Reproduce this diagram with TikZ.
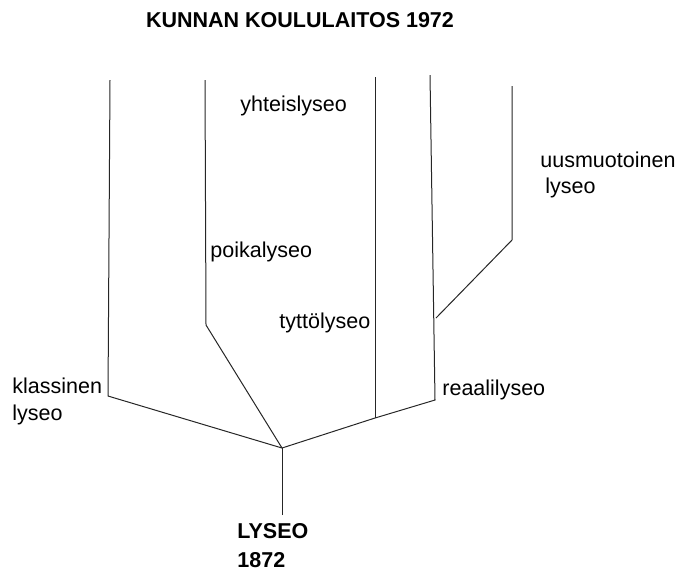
\documentclass[tikz,border=0pt]{standalone}
\usepackage{fontspec}
\setmainfont{Liberation Sans}
\begin{document}
\begin{tikzpicture}[x=0.5pt,y=-0.5pt,
  branch/.style={draw=black!85, line width=0.5pt},
  lbl/.style={anchor=base west, inner sep=0pt, font=\fontsize{10.75}{13.5}\selectfont},
  heading/.style={anchor=base, inner sep=0pt, font=\fontsize{10.75}{13.5}\selectfont\bfseries}]
\useasboundingbox (0,0) rectangle (678,570);

% branching points of the family tree
\coordinate (root) at (282,448);
\coordinate (stem) at (282,515);
\coordinate (klA) at (108,396);
\coordinate (klB) at (110,80);
\coordinate (poA) at (206,325);
\coordinate (poB) at (205,80);
\coordinate (ty) at (375,418);
\coordinate (tyB) at (375,77);
\coordinate (reA) at (435,400);
\coordinate (reB) at (430,75);
\coordinate (reJ) at (436,318);
\coordinate (uuA) at (512,240);
\coordinate (uuB) at (512,86);

% branches
\draw[branch] (stem) -- (root);
\draw[branch] (root) -- (klA) -- (klB);
\draw[branch] (root) -- (poA) -- (poB);
\draw[branch] (root) -- (ty) -- (reA) -- (reB);
\draw[branch] (ty) -- (tyB);
\draw[branch] (reJ) -- (uuA) -- (uuB);

% labels
\node[heading] (title) at (300,27) {KUNNAN KOULULAITOS 1972};
\node[lbl] (yht) at (240,111) {yhteislyseo};
\node[lbl] (uus1) at (540,167) {uusmuotoinen};
\node[lbl] (uus2) at (545,193) {lyseo};
\node[lbl] (poi) at (210,257) {poikalyseo};
\node[lbl] (tyt) at (279,328) {tyttölyseo};
\node[lbl] (kla1) at (12,393) {klassinen};
\node[lbl] (kla2) at (12,420) {lyseo};
\node[lbl] (rea) at (442,395) {reaalilyseo};
\node[lbl, font=\fontsize{10.75}{13.5}\selectfont\bfseries] (ly1) at (237,538) {LYSEO};
\node[lbl, font=\fontsize{10.75}{13.5}\selectfont\bfseries] (ly2) at (237,567) {1872};
\end{tikzpicture}
\end{document}
